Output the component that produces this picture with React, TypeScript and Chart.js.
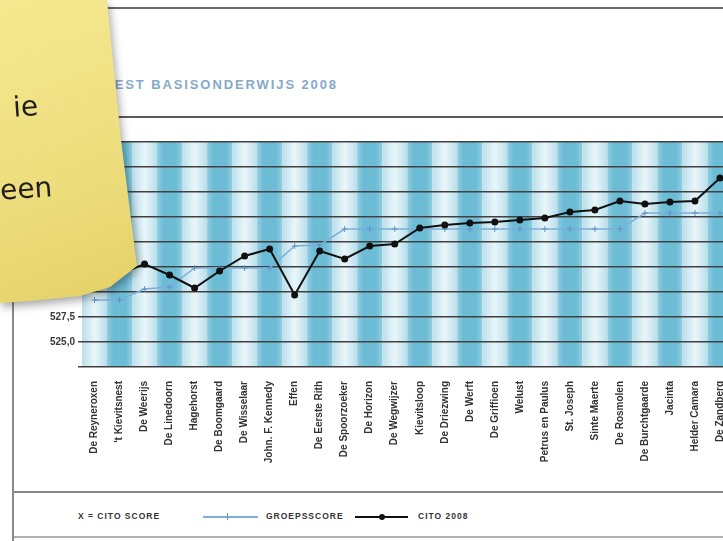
import React, { useEffect, useRef } from 'react';
import { Chart, registerables } from 'chart.js';

Chart.register(...registerables);

const categories = [
  'De Reyneroxen', "'t Kievitsnest", 'De Weerijs', 'De Linedoorn', 'Hagehorst',
  'De Boomgaard', 'De Wisselaar', 'John. F. Kennedy', 'Effen', 'De Eerste Rith',
  'De Spoorzoeker', 'De Horizon', 'De Wegwijzer', 'Kievitsloop', 'De Driezwing',
  'De Werft', 'De Griffioen', 'Welust', 'Petrus en Paulus', 'St. Joseph',
  'Sinte Maerte', 'De Rosmolen', 'De Burchtgaarde', 'Jacinta', 'Helder Camara',
  'De Zandberg',
];

const groepsscore = [
  529.2, 529.2, 530.3, 530.5, 532.4, 532.4, 532.4, 532.4, 534.6, 534.7,
  536.3, 536.3, 536.3, 536.3, 536.3, 536.3, 536.3, 536.3, 536.3, 536.3,
  536.3, 536.3, 537.9, 537.9, 537.9, 537.9,
];

const cito2008 = [
  531.2, 531.8, 532.8, 531.7, 530.4, 532.1, 533.6, 534.3, 529.7, 534.1,
  533.3, 534.6, 534.8, 536.4, 536.7, 536.9, 537.0, 537.2, 537.4, 538.0,
  538.2, 539.1, 538.8, 539.0, 539.1, 541.4,
];

const yMin = 522.5;
const yMax = 545;
const yStep = 2.5;

const W = 760;
const H = 500;

const stripePlugin = {
  id: 'stripes',
  beforeDraw(chart: any) {
    const { ctx, chartArea: a, scales } = chart;
    const x = scales.x;
    const half = (x.getPixelForValue(1) - x.getPixelForValue(0)) / 2;
    ctx.save();
    categories.forEach((_, i) => {
      const c = x.getPixelForValue(i);
      const l = c - half;
      const r = c + half;
      const g = ctx.createLinearGradient(l, 0, r, 0);
      if (i % 2 === 1) {
        g.addColorStop(0, '#93cde0');
        g.addColorStop(0.25, '#6dbcd6');
        g.addColorStop(0.75, '#6dbcd6');
        g.addColorStop(1, '#93cde0');
      } else {
        g.addColorStop(0, '#b9dfeb');
        g.addColorStop(0.5, '#eaf6f9');
        g.addColorStop(1, '#b9dfeb');
      }
      ctx.fillStyle = g;
      ctx.fillRect(l, a.top, r - l, a.bottom - a.top);
    });
    ctx.restore();
  },
};

const xFont = { family: '"Liberation Sans", Arial, sans-serif', weight: 'bold' as const, size: 10 };
const yFont = { family: '"Liberation Sans", Arial, sans-serif', weight: 'bold' as const, size: 10 };

export default function App() {
  const ref = useRef<HTMLCanvasElement | null>(null);

  useEffect(() => {
    if (!ref.current) return;
    const chart = new Chart(ref.current, {
      type: 'line',
      data: {
        labels: categories,
        datasets: [
          {
            label: 'CITO 2008',
            data: cito2008,
            borderColor: '#111111',
            backgroundColor: '#111111',
            borderWidth: 2,
            pointRadius: 2.5,
            pointBackgroundColor: '#111111',
            pointBorderColor: '#111111',
            tension: 0,
          },
          {
            label: 'GROEPSSCORE',
            data: groepsscore,
            borderColor: '#7eaedb',
            backgroundColor: '#7eaedb',
            borderWidth: 1.5,
            pointStyle: 'cross',
            pointRadius: 3,
            pointBorderColor: '#5f93c8',
            pointBorderWidth: 1,
            tension: 0,
          },
        ],
      },
      options: {
        responsive: false,
        animation: false,
        devicePixelRatio: 1,
        layout: { padding: { top: 142, right: W - 732.5, left: 0, bottom: 0 } },
        plugins: {
          legend: { display: false },
          tooltip: { enabled: false },
          title: { display: false },
        },
        scales: {
          x: {
            type: 'category',
            offset: true,
            grid: { display: false },
            border: { display: false },
            ticks: {
              autoSkip: false,
              maxRotation: 90,
              minRotation: 90,
              padding: 6,
              color: '#333333',
              font: xFont,
            },
            afterFit(s: any) {
              s.height = H - 367;
            },
          },
          y: {
            min: yMin,
            max: yMax,
            border: { display: false },
            grid: { color: '#404040', lineWidth: 1.5, tickLength: 4, drawTicks: true },
            ticks: {
              stepSize: yStep,
              padding: 3,
              color: '#3a3a3a',
              font: yFont,
              callback: (v: any) => (Number(v) === yMin ? '' : Number(v).toFixed(1).replace('.', ',')),
            },
            afterFit(s: any) {
              s.width = 82;
            },
          },
        },
      },
      plugins: [stripePlugin],
    });
    return () => chart.destroy();
  }, []);

  const hLine = (top: number, left: number, color: string, h = 1.5): React.CSSProperties => ({
    position: 'absolute', top, left, right: 0, height: h, background: color,
  });

  const legendText: React.CSSProperties = {
    position: 'absolute', top: 511, fontFamily: '"Liberation Sans", Arial, sans-serif',
    fontWeight: 'bold', fontSize: 8.5, letterSpacing: 1, color: '#333333', whiteSpace: 'nowrap',
  };

  return (
    <div style={{ position: 'fixed', left: 0, top: 0, width: 723, height: 541, overflow: 'hidden', background: '#ffffff' }}>
      <div style={hLine(7, 0, '#6a6a6a')} />
      <div style={hLine(116, 0, '#5a5a5a')} />
      <div style={hLine(491, 12, '#8a8a8a', 2)} />
      <div style={hLine(536, 12, '#b0b0b0', 1.5)} />
      <div style={{ position: 'absolute', left: 12, top: 0, width: 1.5, height: 541, background: '#8a8a8a' }} />
      <div
        style={{
          position: 'absolute', left: 0, width: 338, top: 77, textAlign: 'right',
          fontFamily: '"Liberation Sans", Arial, sans-serif', fontWeight: 'bold', fontSize: 13,
          letterSpacing: 1.9, color: '#86a9c8', whiteSpace: 'nowrap',
        }}
      >
        CITO TEST BASISONDERWIJS 2008
      </div>
      <canvas ref={ref} width={W} height={H} style={{ position: 'absolute', left: 0, top: 0, width: W, height: H }} />

      <div style={{ ...legendText, left: 78 }}>X = CITO SCORE</div>
      <div style={{ position: 'absolute', left: 203, top: 516, width: 55, height: 1.5, background: '#7eaedb' }} />
      <div style={{ position: 'absolute', left: 227, top: 513, width: 1.2, height: 7, background: '#5f93c8' }} />
      <div style={{ ...legendText, left: 266 }}>GROEPSSCORE</div>
      <div style={{ position: 'absolute', left: 355, top: 516, width: 53, height: 2, background: '#111' }} />
      <div style={{ position: 'absolute', left: 379, top: 514, width: 6, height: 6, borderRadius: 3, background: '#111' }} />
      <div style={{ ...legendText, left: 418 }}>CITO 2008</div>

      <div style={{ position: 'absolute', left: 0, top: 0, width: 150, height: 320, filter: 'drop-shadow(2px 4px 4px rgba(0,0,0,0.35))' }}>
        <div
          style={{
            position: 'absolute', left: 0, top: 0, width: 150, height: 320,
            clipPath: 'polygon(0px 0px, 107px 0px, 121px 140px, 137px 266px, 110px 287px, 80px 296px, 30px 301px, 0px 303px)',
            background: 'linear-gradient(160deg, #f4e890 0%, #eddd7c 55%, #e2ce64 100%)',
          }}
        >
          <div
            style={{
              position: 'absolute', right: 112, top: 90, fontFamily: '"DejaVu Sans", sans-serif',
              fontSize: 28, color: '#1e1e1e', transform: 'rotate(-4deg)', whiteSpace: 'nowrap',
            }}
          >
            ie
          </div>
          <div
            style={{
              position: 'absolute', right: 98, top: 172, fontFamily: '"DejaVu Sans", sans-serif',
              fontSize: 28, color: '#1e1e1e', transform: 'rotate(-4deg)', whiteSpace: 'nowrap',
            }}
          >
            een
          </div>
        </div>
      </div>
    </div>
  );
}
